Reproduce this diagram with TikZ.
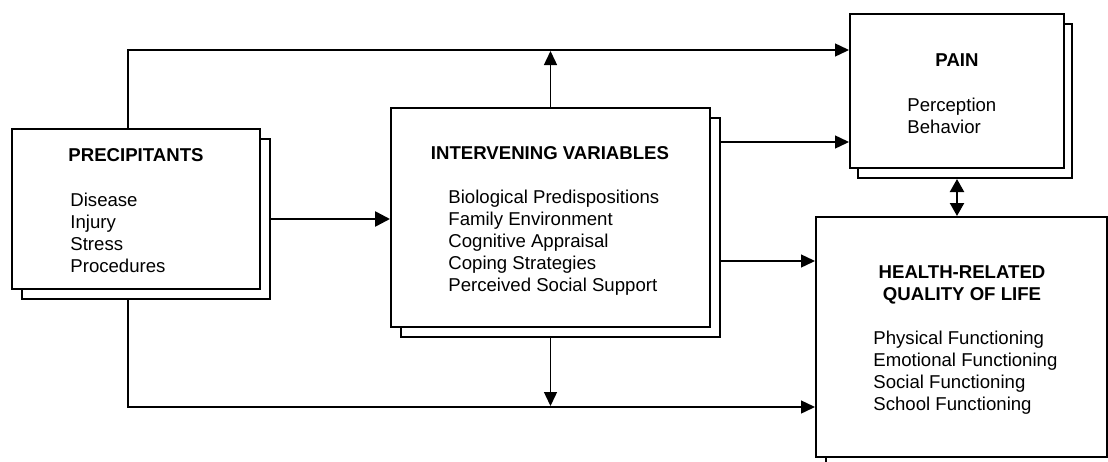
\documentclass[tikz,border=0pt]{standalone}
\usepackage{fontspec}
\setmainfont{Liberation Sans}
\usetikzlibrary{arrows.meta,positioning,calc}

\begin{document}
\begin{tikzpicture}[
  x=0.5pt,y=-0.5pt,
  box/.style={draw,line width=1pt,fill=white,inner sep=0pt},
  head/.style={font=\fontsize{9.3}{11}\selectfont\bfseries,align=center,anchor=north,inner sep=0pt},
  items/.style={font=\fontsize{9.3}{10.9}\selectfont,align=left,anchor=north west,inner sep=0pt},
  arr/.style={-{Triangle[length=7pt,width=6.5pt]},line width=0.7pt},
  thickarr/.style={-{Triangle[length=7.5pt,width=7.5pt]},line width=1.3pt},
  dblarr/.style={{Triangle[length=6.5pt,width=7pt]}-{Triangle[length=6.5pt,width=7pt]},line width=1.1pt}
]
\clip (0,0) rectangle (1108,461);

\node[box,minimum width=124pt,minimum height=80pt] (pre-s) at (146,219) {};
\node[box,minimum width=124pt,minimum height=80pt] (pre) at (136,209) {};
\node[head] (pre-h) at (136,148) {PRECIPITANTS};
\node[items] (pre-i) at (70,193) {Disease\\Injury\\Stress\\Procedures};

\node[box,minimum width=159.5pt,minimum height=109.5pt] (int-s) at (560.5,227.5) {};
\node[box,minimum width=159.5pt,minimum height=109.5pt] (int) at (550.5,217.5) {};
\node[head] (int-h) at (550,146) {INTERVENING VARIABLES};
\node[items] (int-i) at (448,190)
  {Biological Predispositions\\Family Environment\\Cognitive Appraisal\\Coping Strategies\\Perceived Social Support};

\node[box,minimum width=107pt,minimum height=77pt] (pain-s) at (965,101) {};
\node[box,minimum width=107pt,minimum height=77pt] (pain) at (957,91) {};
\node[head] (pain-h) at (957,53) {PAIN};
\node[items] (pain-i) at (907,98) {Perception\\Behavior};

\node[box,minimum width=145.5pt,minimum height=120pt] (hrql-s) at (971.5,347) {};
\node[box,minimum width=145.5pt,minimum height=120pt] (hrql) at (961.5,337) {};
\node[head] (hrql-h) at (962,265) {HEALTH-RELATED\\QUALITY OF LIFE};
\node[items] (hrql-i) at (873,331)
  {Physical Functioning\\Emotional Functioning\\Social Functioning\\School Functioning};

\draw[arr] (pre.north -| 128,0) |- (pain.west |- 0,50);
\draw[arr] (pre-s.south -| 128,0) |- (hrql.west |- 0,407);
\draw[thickarr] (pre-s.east) -- (int.west |- pre-s.east);
\draw[arr] (int.north) -- (int.north |- 0,51);
\draw[arr] (int.south |- int-s.south) -- (int.south |- 0,406);
\draw[arr] (int-s.east |- 0,142) -- (pain.west |- 0,142);
\draw[arr] (int-s.east |- 0,261) -- (hrql.west |- 0,261);
\draw[dblarr] (pain.south |- pain-s.south) -- (pain.south |- hrql.north);
\end{tikzpicture}
\end{document}
